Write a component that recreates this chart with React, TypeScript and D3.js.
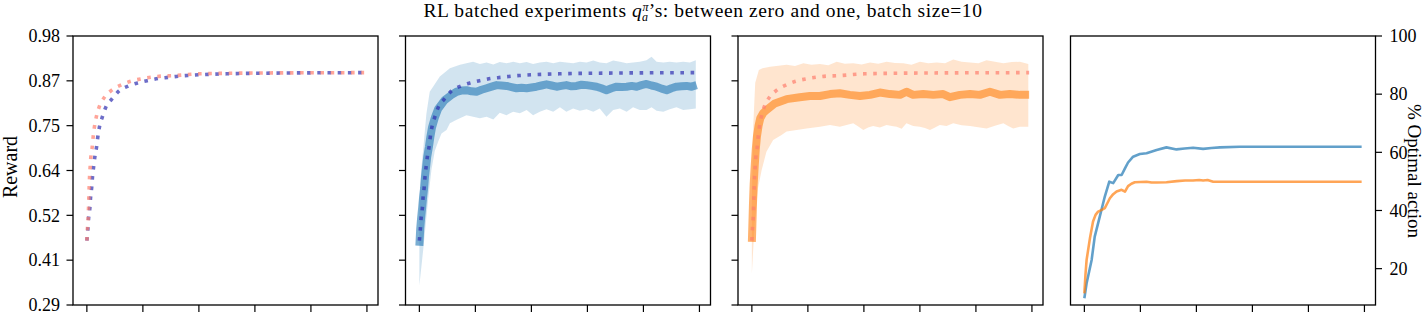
import React from "react";
import * as d3 from "d3";

// x ticks (steps) shared by all panels, no labels drawn
const stepTicks = [0, 200, 400, 600, 800, 1000];
const rewardTicks = [0.29, 0.405, 0.52, 0.635, 0.75, 0.865, 0.98];
const rewardTickLabels = ["0.29", "0.41", "0.52", "0.64", "0.75", "0.87", "0.98"];
const pctTicks = [20, 40, 60, 80, 100];
const pctTickLabels = ["20", "40", "60", "80", "100"];

// expected reward (dotted), [step, reward]
const expectedRed = [
  [0, 0.455], [2, 0.485], [4.5, 0.511], [6, 0.539], [7, 0.564], [8.2, 0.59], [9.6, 0.618],
  [11.8, 0.644], [14.3, 0.67], [19, 0.695], [22.5, 0.721], [27.5, 0.749], [34.6, 0.775],
  [45, 0.8], [64, 0.824], [89, 0.841], [121, 0.854], [157, 0.864], [193, 0.87], [228, 0.874],
  [264, 0.877], [303, 0.878], [403, 0.883], [600, 0.885], [990, 0.886],
];
const expectedBlue = [
  [0, 0.455], [3.6, 0.485], [6, 0.511], [10.7, 0.539], [13, 0.564], [17, 0.59], [20, 0.618],
  [24, 0.644], [28.5, 0.67], [34.6, 0.695], [39, 0.721], [45, 0.747], [55, 0.772], [68, 0.798],
  [89, 0.818], [115, 0.839], [149, 0.852], [183, 0.86], [219, 0.866], [255, 0.871],
  [292, 0.874], [328, 0.877], [365, 0.879], [500, 0.883], [700, 0.885], [990, 0.886],
];

// sample mean reward, blue batch
const meanBlue = [
  [0, 0.442], [3, 0.485], [6, 0.511], [10, 0.54], [13, 0.564], [17, 0.59], [20, 0.618],
  [24, 0.644], [28, 0.67], [34, 0.695], [39, 0.72], [45, 0.745], [55, 0.77], [67, 0.793],
  [91, 0.816], [115, 0.829], [133, 0.837], [150, 0.84], [168, 0.841], [186, 0.838],
  [204, 0.837], [222, 0.842], [240, 0.846], [258, 0.85], [276, 0.854], [293, 0.853],
  [311, 0.852], [329, 0.849], [347, 0.846], [365, 0.847], [383, 0.846], [400, 0.848],
  [418, 0.85], [436, 0.853], [454, 0.856], [472, 0.853], [490, 0.85], [507, 0.852],
  [525, 0.854], [543, 0.851], [561, 0.852], [579, 0.855], [597, 0.854], [615, 0.852],
  [633, 0.85], [650, 0.846], [668, 0.841], [686, 0.846], [704, 0.85], [722, 0.849],
  [740, 0.85], [758, 0.852], [776, 0.85], [793, 0.854], [811, 0.857], [829, 0.853],
  [847, 0.85], [865, 0.845], [883, 0.841], [900, 0.846], [918, 0.85], [936, 0.851],
  [954, 0.852], [972, 0.85], [990, 0.854],
];
const upperBlue = [
  [0, 0.56], [7, 0.64], [13.6, 0.688], [25, 0.78], [37, 0.837], [49, 0.85], [73, 0.876],
  [109, 0.897], [145, 0.906], [168, 0.91], [192, 0.914], [216, 0.908], [240, 0.912],
  [264, 0.907], [287, 0.913], [311, 0.91], [335, 0.914], [359, 0.91], [383, 0.913],
  [406, 0.908], [430, 0.912], [454, 0.914], [478, 0.91], [502, 0.914], [525, 0.912],
  [549, 0.91], [573, 0.914], [597, 0.912], [621, 0.917], [644, 0.912], [668, 0.91],
  [692, 0.917], [716, 0.914], [740, 0.91], [763, 0.912], [787, 0.914], [811, 0.918],
  [829, 0.927], [847, 0.914], [871, 0.912], [894, 0.914], [918, 0.912], [942, 0.914],
  [966, 0.912], [987, 0.918],
];
const lowerBlue = [
  [0, 0.34], [13.6, 0.431], [31, 0.559], [43, 0.636], [55, 0.685], [67, 0.709], [79, 0.73],
  [97, 0.739], [109, 0.756], [133, 0.765], [168, 0.777], [192, 0.773], [216, 0.769],
  [240, 0.773], [264, 0.766], [287, 0.783], [311, 0.777], [335, 0.786], [359, 0.782],
  [383, 0.79], [406, 0.777], [430, 0.786], [454, 0.792], [478, 0.786], [502, 0.797],
  [525, 0.786], [549, 0.794], [573, 0.788], [597, 0.792], [621, 0.786], [644, 0.794],
  [668, 0.773], [692, 0.79], [716, 0.794], [740, 0.786], [763, 0.797], [787, 0.79],
  [811, 0.79], [829, 0.797], [847, 0.788], [871, 0.786], [894, 0.792], [918, 0.797],
  [942, 0.79], [966, 0.792], [987, 0.794],
];

// sample mean reward, orange batch
const meanOrange = [
  [0, 0.452], [2, 0.5], [4, 0.55], [6.5, 0.6], [10, 0.645], [14, 0.69], [18, 0.722],
  [24, 0.75], [30, 0.769], [40, 0.782], [52, 0.79], [82, 0.807], [124, 0.818], [171, 0.823],
  [207, 0.826], [243, 0.826], [279, 0.831], [314, 0.833], [350, 0.829], [386, 0.826],
  [422, 0.829], [457, 0.835], [493, 0.831], [529, 0.829], [552, 0.837], [576, 0.829],
  [612, 0.831], [648, 0.829], [683, 0.831], [707, 0.823], [743, 0.829], [779, 0.831],
  [814, 0.829], [850, 0.837], [886, 0.829], [921, 0.831], [957, 0.829], [990, 0.829],
];
const upperOrange = [
  [0, 0.56], [5, 0.75], [12, 0.86], [25, 0.893], [38, 0.897], [65, 0.901], [95, 0.904],
  [124, 0.906], [154, 0.903], [184, 0.91], [213, 0.906], [243, 0.908], [273, 0.905],
  [303, 0.914], [332, 0.909], [362, 0.91], [392, 0.907], [422, 0.912], [451, 0.909],
  [481, 0.914], [511, 0.911], [541, 0.91], [570, 0.906], [600, 0.914], [630, 0.91],
  [660, 0.912], [690, 0.91], [719, 0.92], [749, 0.914], [779, 0.912], [809, 0.91],
  [838, 0.918], [868, 0.914], [898, 0.91], [928, 0.913], [957, 0.914], [987, 0.908],
];
const lowerOrange = [
  [0, 0.37], [10, 0.5], [22, 0.59], [35, 0.636], [52, 0.683], [76, 0.713], [106, 0.726],
  [124, 0.735], [160, 0.739], [195, 0.743], [243, 0.747], [279, 0.752], [314, 0.747],
  [338, 0.752], [362, 0.756], [380, 0.748], [398, 0.739], [415, 0.745], [433, 0.749],
  [457, 0.745], [481, 0.752], [500, 0.749], [517, 0.747], [535, 0.742], [552, 0.756],
  [576, 0.749], [600, 0.747], [618, 0.744], [636, 0.739], [654, 0.745], [671, 0.752],
  [695, 0.749], [719, 0.756], [749, 0.751], [779, 0.749], [808, 0.746], [838, 0.743],
  [868, 0.75], [898, 0.756], [915, 0.749], [933, 0.743], [957, 0.747], [987, 0.747],
];

// % optimal action
const optimalBlue = [
  [0, 9.8], [8, 15], [26, 23], [37, 31], [55, 37.9], [73, 44.8], [89, 49.9], [103, 49.4],
  [121, 52.2], [133, 52.2], [145, 54.5], [156, 56.5], [174, 58.5], [198, 59.4], [222, 59.7],
  [258, 60.8], [293, 61.7], [329, 61], [358, 61.3], [388, 61.6], [424, 61.2], [454, 61.5],
  [484, 61.7], [555, 61.9], [990, 61.9],
];
const optimalOrange = [
  [0, 11.5], [4, 18], [8, 23], [20, 30.5], [31, 36.2], [40, 38.5], [49, 39.6], [62, 40.2],
  [73, 40.8], [82, 42.5], [91, 44.2], [103, 45.6], [115, 46.5], [133, 47.1], [145, 46.5],
  [156, 48.4], [168, 49.2], [180, 49.7], [222, 49.9], [240, 49.6], [258, 49.6], [293, 49.7],
  [330, 50.1], [360, 50.3], [388, 50.3], [410, 50.5], [424, 50.3], [440, 50.5], [460, 49.9],
  [990, 49.9],
];

const W = 1427;
const H = 315;
const TOP = 36;
const BOTTOM = 305;
const PW = 305;
const LEFTS = [73, 405.5, 738, 1070.5];
const FONT = "'Liberation Serif', 'Times New Roman', serif";

const BLUE = "#1f77b4";
const ORANGE = "#ff7f0e";
const DOT_BLUE = "#2f2fb0";
const DOT_RED = "#ff7f6e";

const xFor = (i) => d3.scaleLinear().domain([-49.5, 1039.5]).range([LEFTS[i], LEFTS[i] + PW]);
const yReward = d3.scaleLinear().domain([0.29, 0.98]).range([BOTTOM, TOP]);
const yPct = d3.scaleLinear().domain([7.5, 100]).range([BOTTOM, TOP]);

const lineOf = (sx, sy, smooth = false) => {
  const g = d3.line().x((d) => sx(d[0])).y((d) => sy(d[1]));
  return smooth ? g.curve(d3.curveMonotoneX) : g;
};

const bandPath = (sx, upper, lower) =>
  lineOf(sx, yReward)([...upper, ...lower.slice().reverse()]) + "Z";

const Frame = ({ i, side }) => {
  const sx = xFor(i);
  const l = LEFTS[i];
  const r = l + PW;
  return (
    <g>
      <rect x={l} y={TOP} width={PW} height={BOTTOM - TOP} fill="none" stroke="#000" strokeWidth={1.3} />
      {stepTicks.map((t) => (
        <line key={t} x1={sx(t)} x2={sx(t)} y1={BOTTOM} y2={BOTTOM + 7} stroke="#000" strokeWidth={1.2} />
      ))}
      {side === "left" &&
        rewardTicks.map((t, k) => (
          <g key={t}>
            <line x1={l - 6.5} x2={l} y1={yReward(t)} y2={yReward(t)} stroke="#000" strokeWidth={1.2} />
            {i === 0 && (
              <text x={l - 13} y={yReward(t)} dy="0.35em" textAnchor="end" fontSize={18}>
                {rewardTickLabels[k]}
              </text>
            )}
          </g>
        ))}
      {side === "right" &&
        pctTicks.map((t, k) => (
          <g key={t}>
            <line x1={r} x2={r + 6.5} y1={yPct(t)} y2={yPct(t)} stroke="#000" strokeWidth={1.2} />
            <text x={r + 14} y={yPct(t)} dy="0.35em" textAnchor="start" fontSize={18}>
              {pctTickLabels[k]}
            </text>
          </g>
        ))}
    </g>
  );
};

const dotted = { fill: "none", strokeWidth: 3.6, strokeDasharray: "3.6 6.6" };

export default function App() {
  const x0 = xFor(0);
  const x1 = xFor(1);
  const x2 = xFor(2);
  const x3 = xFor(3);
  return (
    <svg
      width={W}
      height={H}
      style={{ position: "absolute", left: 0, top: 0, background: "#fff" }}
      fontFamily={FONT}
    >
      <text x={703} y={17} textAnchor="middle" fontSize={19.5} letterSpacing={0.6}>
        RL batched experiments <tspan fontStyle="italic">q</tspan>
        <tspan fontStyle="italic" fontSize={12} dy={-6}>π</tspan>
        <tspan fontStyle="italic" fontSize={12} dx={-7} dy={9.5}>a</tspan>
        <tspan dy={-3.5}>’s: between zero and one, batch size=10</tspan>
      </text>

      {/* panel 1: expected reward */}
      <path d={lineOf(x0, yReward, true)(expectedBlue)} stroke={DOT_BLUE} strokeOpacity={0.7} {...dotted} />
      <path d={lineOf(x0, yReward, true)(expectedRed)} stroke={DOT_RED} strokeOpacity={0.7} {...dotted} />

      {/* panel 2: blue batch */}
      <path d={bandPath(x1, upperBlue, lowerBlue)} fill={BLUE} fillOpacity={0.2} />
      <path d={lineOf(x1, yReward)(meanBlue)} fill="none" stroke={BLUE} strokeOpacity={0.6} strokeWidth={8} strokeLinejoin="round" />
      <path d={lineOf(x1, yReward, true)(expectedBlue)} stroke={DOT_BLUE} strokeOpacity={0.7} {...dotted} />

      {/* panel 3: orange batch */}
      <path d={bandPath(x2, upperOrange, lowerOrange)} fill={ORANGE} fillOpacity={0.2} />
      <path d={lineOf(x2, yReward)(meanOrange)} fill="none" stroke={ORANGE} strokeOpacity={0.6} strokeWidth={8} strokeLinejoin="round" />
      <path d={lineOf(x2, yReward, true)(expectedRed)} stroke={DOT_RED} strokeOpacity={0.7} {...dotted} />

      {/* panel 4: % optimal action */}
      <path d={lineOf(x3, yPct)(optimalBlue)} fill="none" stroke={BLUE} strokeOpacity={0.7} strokeWidth={2.6} strokeLinejoin="round" />
      <path d={lineOf(x3, yPct)(optimalOrange)} fill="none" stroke={ORANGE} strokeOpacity={0.7} strokeWidth={2.6} strokeLinejoin="round" />

      <Frame i={0} side="left" />
      <Frame i={1} side="left" />
      <Frame i={2} side="left" />
      <Frame i={3} side="right" />

      <text transform="translate(17,167) rotate(-90)" textAnchor="middle" fontSize={20}>
        Reward
      </text>
      <text transform="translate(1408,171) rotate(90)" textAnchor="middle" fontSize={19}>
        % Optimal action
      </text>
    </svg>
  );
}
